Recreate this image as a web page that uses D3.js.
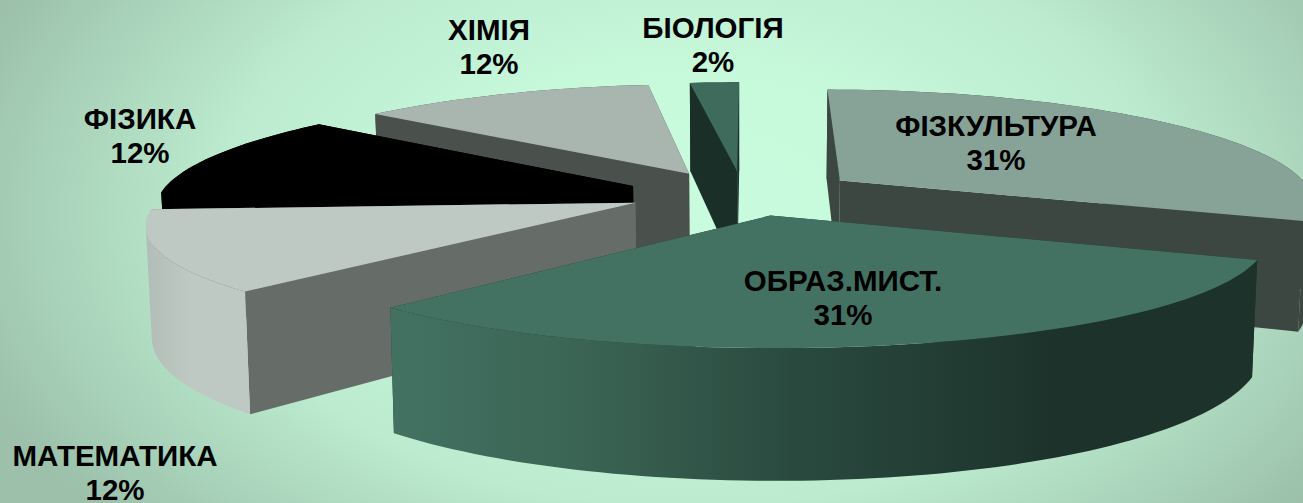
<!DOCTYPE html>
<html><head><meta charset="utf-8">
<style>html,body{margin:0;padding:0;overflow:hidden;background:#c8fbdc}svg{display:block}text{font-family:"Liberation Sans",Arial,sans-serif;font-weight:700;fill:#000}</style>
<script src="https://cdn.jsdelivr.net/npm/d3@7/dist/d3.min.js"></script>
</head><body><svg id="c" width="1303" height="503"></svg>
<script>
const categories=["ФІЗКУЛЬТУРА","ОБРАЗ.МИСТ.","МАТЕМАТИКА","ФІЗИКА","ХІМІЯ","БІОЛОГІЯ"];
const values=[31,31,12,12,12,2];
const percentLabels=["31%","31%","12%","12%","12%","2%"];
const topColors=["#87a397","#437263","#bfc9c3","#000000","#a9b6b0","#3f6b5c"];
const wallColors=["#3b4740","#1d332c","#666c67","#000000","#4a504c","#1b2f29"];
const paintOrder=[5,4,3,2,0,1];
const W=1303,H=503;
const svg=d3.select("#c");
const defs=svg.append("defs");
const bg=defs.append("radialGradient").attr("id","bg").attr("gradientUnits","userSpaceOnUse")
 .attr("cx",0).attr("cy",0).attr("r",1).attr("gradientTransform","translate(690,215) scale(760,470)");
[[0,"#c9fcde"],[.3,"#c7f9db"],[.62,"#bcebcf"],[.85,"#a8d2b9"],[1,"#9cc0aa"]].forEach(d=>bg.append("stop").attr("offset",d[0]).attr("stop-color",d[1]));
svg.append("rect").attr("width",W).attr("height",H).attr("fill","url(#bg)");
const wallGrad=defs.append("linearGradient").attr("id","wall1").attr("gradientUnits","userSpaceOnUse").attr("x1",390).attr("x2",1060).attr("y1",0).attr("y2",0);
[[0,"#437263"],[.3,"#3a6353"],[.6,"#2a4a3f"],[1,"#1c322b"]].forEach(d=>wallGrad.append("stop").attr("offset",d[0]).attr("stop-color",d[1]));
const wallGrad2=defs.append("linearGradient").attr("id","wall2").attr("gradientUnits","userSpaceOnUse").attr("x1",146).attr("x2",190).attr("y1",0).attr("y2",0);
[[0,"#b3bdb7"],[1,"#bfc9c3"]].forEach(d=>wallGrad2.append("stop").attr("offset",d[0]).attr("stop-color",d[1]));
const outerFill=["#3b4740","url(#wall1)","url(#wall2)","#000","#4a504c","#1b2f29"];

// ground-plane projection
const cx=744,cy=193,ax=472,by=107,perspX=.167,perspY=.14,depth=106,converge=.99,explodeX=.25,explodeY=.21,rotate=.15*Math.PI/180;
const sx=d3.scaleLinear().domain([0,1]).range([0,ax]);
const sy=d3.scaleLinear().domain([0,1]).range([0,-by]);
function proj(u,v,low){
 const s=1/(1+perspX*v),t=1/(1+perspY*v);
 const x=sx(u)*s*(low?converge:1);
 return [cx+x,cy+sy(v)*t+(low?depth*s:0)];
}
const pie=d3.pie().sort(null).startAngle(rotate).endAngle(2*Math.PI+rotate);
const arcs=pie(values);
const line=d3.line();
const group=svg.append("g");
paintOrder.forEach(i=>{
 const a=arcs[i],mid=(a.startAngle+a.endAngle)/2;
 const ou=explodeX*Math.sin(mid),ov=explodeY*Math.cos(mid);
 const rim=t=>[ou+Math.sin(t),ov+Math.cos(t)];
 const n=Math.max(6,Math.round((a.endAngle-a.startAngle)*40));
 const ts=d3.range(n+1).map(k=>a.startAngle+(a.endAngle-a.startAngle)*k/n);
 const apex=[ou,ov];
 const P=(p,low)=>proj(p[0],p[1],low);
 const g=group.append("g");
 [a.endAngle,a.startAngle].forEach(t=>{
  const r=rim(t);
  g.append("path").attr("d",line([P(apex),P(r),P(r,true),P(apex,true)])+"Z").attr("fill",wallColors[i]);
 });
 const outer=d3.pairs(ts).map(([t0,t1])=>{
  const r0=rim(t0),r1=rim(t1);
  const q=[P(r0),P(r1),P(r1,true),P(r0,true)];
  if(d3.polygonArea(q)<0)q.reverse();
  return line(q)+"Z";
 }).join("");
 g.append("path").attr("d",outer).attr("fill",outerFill[i]);
 const up=ts.map(t=>P(rim(t)));
 g.append("path").attr("d",line([P(apex)].concat(up))+"Z").attr("fill",topColors[i]);
});
// data labels
const labelX=[996,843,115,140,489,713],labelY=[136,291,466,129,40,38];
const fs=29.5,lead=34;
categories.forEach((c,i)=>{
 const t=svg.append("text").attr("text-anchor","middle").attr("font-size",fs);
 t.append("tspan").attr("x",labelX[i]).attr("y",labelY[i]).text(c);
 t.append("tspan").attr("x",labelX[i]).attr("y",labelY[i]+lead).text(percentLabels[i]);
});
</script></body></html>
